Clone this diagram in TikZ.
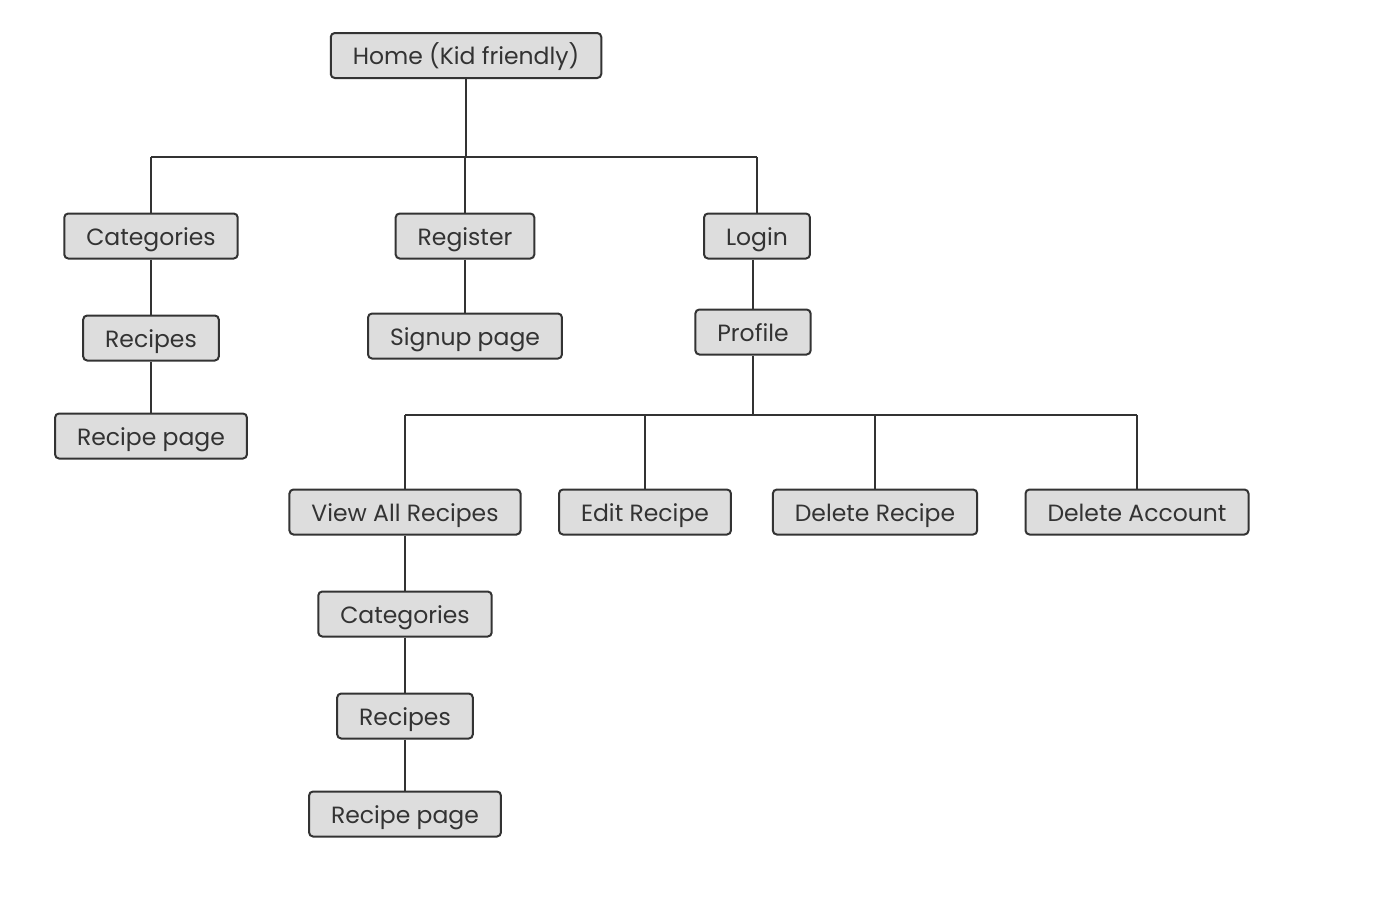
\documentclass[tikz,border=0pt]{standalone}
\usepackage{fontspec}
\setmainfont{Poppins}
\usetikzlibrary{calc}
\definecolor{boxfill}{HTML}{DDDDDD}
\definecolor{boxline}{HTML}{333333}

\begin{document}
\begin{tikzpicture}[x=1pt, y=-1pt,
  box/.style={draw=boxline, fill=boxfill, line width=2pt, rounded corners=4pt,
    minimum height=45pt, inner xsep=22pt, inner ysep=0pt, text=boxline,
    text height=20pt, text depth=2pt},
  link/.style={draw=boxline, line width=2pt}]
\useasboundingbox (0,0) rectangle (1374,898);
\fontsize{23.5}{28}\selectfont
\node[box] at (466, 55.5) (home) {Home (Kid friendly)};
\node[box] at (151, 236) (cat) {Categories};
\node[box] at (465, 236) (reg) {Register};
\node[box] at (757, 236) (login) {Login};
\node[box] at (151, 338) (rec) {Recipes};
\node[box] at (465, 336) (signup) {Signup page};
\node[box] at (753, 332) (profile) {Profile};
\node[box] at (151, 436) (recpage) {Recipe page};
\node[box] at (405, 512) (viewall) {View All Recipes};
\node[box] at (645, 512) (edit) {Edit Recipe};
\node[box] at (875, 512) (delrec) {Delete Recipe};
\node[box] at (1137, 512) (delacc) {Delete Account};
\node[box] at (405, 614) (cattwo) {Categories};
\node[box] at (405, 716) (rectwo) {Recipes};
\node[box] at (405, 814) (recpagetwo) {Recipe page};
% bus lines
\coordinate (homebus) at (466, 157);
\coordinate (profbus) at (753, 415);
\path[link] (homebus -| cat) -- (homebus -| login);
\path[link] (profbus -| viewall) -- (profbus -| delacc);
\path[link] (home) -- (homebus);
\path[link] (homebus -| cat) -- (cat);
\path[link] (homebus -| reg) -- (reg);
\path[link] (homebus -| login) -- (login);
\path[link] (cat) -- (rec);
\path[link] (rec) -- (recpage);
\path[link] (reg) -- (signup);
\path[link] (login.south -| profile) -- (profile);
\path[link] (profile) -- (profbus);
\foreach \n in {viewall, edit, delrec, delacc}
  \path[link] (profbus -| \n) -- (\n);
\path[link] (viewall) -- (cattwo);
\path[link] (cattwo) -- (rectwo);
\path[link] (rectwo) -- (recpagetwo);
\end{tikzpicture}
\end{document}
